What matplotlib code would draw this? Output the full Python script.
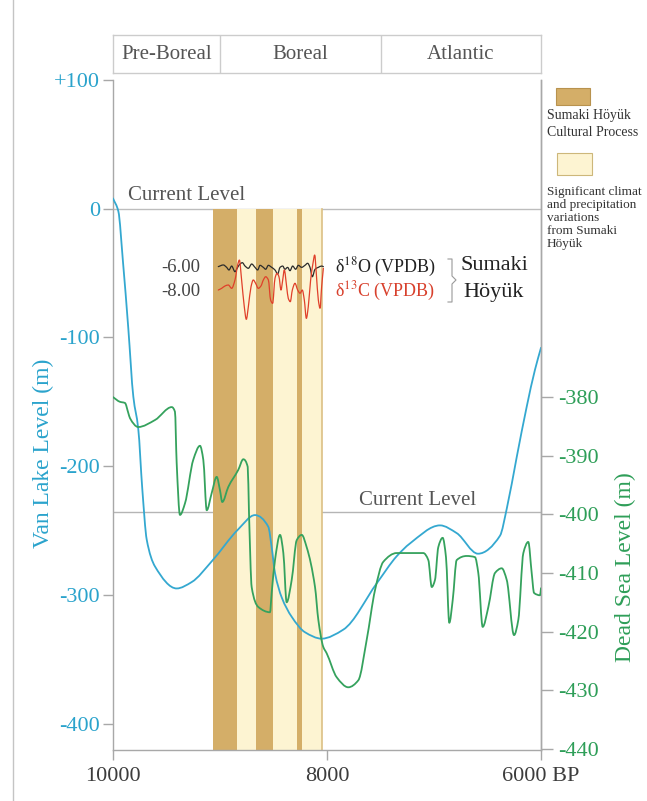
import matplotlib
matplotlib.use("Agg")
import matplotlib.pyplot as plt
from matplotlib.lines import Line2D
from matplotlib.patches import Rectangle, PathPatch
from matplotlib.path import Path
import matplotlib.transforms as mtransforms

plt.rcParams['font.family'] = ['Liberation Serif', 'DejaVu Serif']
plt.rcParams['mathtext.fontset'] = 'stix'

# ---------------- data ----------------
periods = ['Pre-Boreal', 'Boreal', 'Atlantic']
period_bounds = [10000, 9000, 7500, 6000]

band_edges = [9065, 8845, 8660, 8505, 8285, 8235, 8050]
band_kinds = ['cultural', 'climate', 'cultural', 'climate', 'cultural', 'climate']

van_years = [10000, 9950, 9907, 9857, 9810, 9764, 9726, 9685, 9607, 9405, 9264, 9078,
             8829, 8673, 8549, 8517, 8486, 8423, 8330, 8206, 8050, 7848, 7535, 7349,
             7224, 6944, 6788, 6589, 6383, 6320, 6227, 6134, 6056, 6000]
van_level = [8, -2, -41, -93, -146, -171, -218, -257, -278, -295, -290, -274,
             -249, -238, -247, -263, -283, -302, -317, -329, -334, -327, -291, -270,
             -260, -246, -252, -268, -254, -233, -193, -154, -125, -108]

dead_years = [10000, 9935, 9888, 9857, 9841, 9764, 9607, 9451, 9421, 9405, 9374, 9327,
              9250, 9187, 9156, 9124, 9078, 9031, 9000, 8979, 8922, 8829, 8782, 8741,
              8729, 8704, 8642, 8533, 8517, 8486, 8439, 8408, 8377, 8330, 8283, 8236,
              8190, 8112, 8081, 8035, 8003, 7909, 7801, 7707, 7629, 7551, 7474, 7349,
              7100, 7053, 7021, 6991, 6960, 6919, 6888, 6857, 6825, 6788, 6694, 6617,
              6586, 6545, 6492, 6430, 6367, 6320, 6252, 6212, 6165, 6119, 6087, 6065,
              6009, 6000]
dead_level = [-380.0, -380.8, -381.0, -382.7, -383.6, -385.1, -383.9, -381.7, -382.5, -391.2, -400.1, -398.1,
              -390.7, -388.3, -390.7, -399.3, -396.4, -393.6, -395.9, -397.9, -395.3, -392.4, -390.6, -391.9,
              -399.8, -412.4, -415.8, -416.7, -413.4, -407.8, -403.5, -406.6, -415.0, -411.2, -404.4, -403.5,
              -405.6, -412.4, -418.0, -422.6, -423.7, -427.8, -429.5, -428.3, -421.4, -412.9, -408.1, -406.6,
              -406.6, -407.8, -412.4, -411.2, -405.6, -404.0, -407.3, -418.5, -414.6, -407.8, -407.1, -407.3,
              -410.0, -419.2, -415.8, -410.0, -409.2, -411.2, -420.6, -418.0, -406.6, -404.7, -410.0, -413.4,
              -413.8, -412.6]

d18o_years = [9016, 8969, 8938, 8916, 8891, 8860, 8835, 8813, 8791, 8766, 8735, 8704, 8673,
              8648, 8626, 8595, 8573, 8548, 8517, 8486, 8461, 8439, 8414, 8393, 8368, 8346,
              8321, 8293, 8268, 8237, 8206, 8181, 8159, 8137, 8112, 8081, 8050, 8034]
d18o = [-5.97, -5.83, -6.03, -6.25, -5.92, -6.39, -6.03, -5.75, -5.64, -5.92, -6.11, -5.75, -6.03,
        -6.25, -5.86, -6.03, -6.19, -5.86, -6.03, -6.25, -6.58, -6.03, -5.92, -6.19, -6.03, -6.31,
        -5.92, -6.19, -5.86, -6.03, -5.86, -5.69, -6.03, -6.81, -6.19, -6.03, -5.92, -5.97]

d13c_years = [9016, 8985, 8953, 8922, 8891, 8860, 8835, 8819, 8798, 8773, 8754, 8735, 8710,
              8689, 8667, 8642, 8617, 8595, 8573, 8548, 8527, 8508, 8486, 8467, 8449, 8430,
              8414, 8399, 8377, 8362, 8343, 8324, 8299, 8274, 8252, 8231, 8212, 8193, 8175,
              8153, 8131, 8115, 8100, 8081, 8065, 8050, 8034]
d13c = [-7.92, -7.78, -7.58, -7.50, -7.78, -7.08, -5.83, -5.42, -7.08, -9.31, -10.36, -9.31, -7.64,
        -7.08, -7.36, -7.78, -7.58, -7.08, -6.81, -7.08, -8.75, -9.03, -6.94, -6.53, -6.81, -7.92,
        -7.08, -6.25, -7.64, -8.61, -8.89, -7.92, -7.36, -7.92, -8.19, -7.92, -8.75, -10.28, -9.31,
        -7.08, -5.69, -5.00, -6.53, -8.75, -9.44, -7.64, -6.11]

van_current = 0
dead_current = -399.6

van_ticks = [-400, -300, -200, -100, 0, 100]
van_ticklabels = ['-400', '-300', '-200', '-100', '0', '+100']
dead_ticks = [-440, -430, -420, -410, -400, -390, -380]
x_ticks = [10000, 8000, 6000]
x_ticklabels = ['10000', '8000', '6000 BP']

# ---------------- style ----------------
W, H = 647, 801
BLUE = '#34a8d0'
BLUE_TXT = '#2aa3cc'
GREEN = '#35a25d'
GREEN_TXT = '#2e9e58'
TAN = '#d4ae68'
CREAM = '#fdf4d2'
GRAY = '#a8a8a8'


def smooth_path(xs, ys):
    """Monotone cubic (PCHIP-style) curve through the given points, as Bezier path."""
    n = len(xs)
    h = [xs[k + 1] - xs[k] for k in range(n - 1)]
    d = [(ys[k + 1] - ys[k]) / h[k] for k in range(n - 1)]
    m = [0.0] * n
    m[0], m[-1] = d[0], d[-1]
    for k in range(1, n - 1):
        if d[k - 1] * d[k] <= 0:
            m[k] = 0.0
        else:
            h0, h1 = abs(h[k - 1]), abs(h[k])
            w1, w2 = 2 * h1 + h0, h1 + 2 * h0
            m[k] = (w1 + w2) / (w1 / d[k - 1] + w2 / d[k])
    verts = [(xs[0], ys[0])]
    codes = [Path.MOVETO]
    for k in range(n - 1):
        hk = h[k]
        verts += [(xs[k] + hk / 3, ys[k] + m[k] * hk / 3),
                  (xs[k + 1] - hk / 3, ys[k + 1] - m[k + 1] * hk / 3),
                  (xs[k + 1], ys[k + 1])]
        codes += [Path.CURVE4] * 3
    return Path(verts, codes)


def draw_curve(a, xs, ys, color, lw, z):
    a.add_patch(PathPatch(smooth_path(xs, ys), facecolor='none', edgecolor=color,
                          lw=lw, zorder=z, capstyle='round', joinstyle='round'))


fig = plt.figure(figsize=(W / 100, H / 100), dpi=100)
fig.patch.set_facecolor('white')


def fbox(x0, y0, x1, y1):
    return [x0 / W, 1 - y1 / H, (x1 - x0) / W, (y1 - y0) / H]


VAN_LIM = (-420.5, 100)
DEAD_LIM = (-440.2, -325.9)

ax = fig.add_axes(fbox(113, 80, 541, 750))
ax.set_xlim(10000, 6000)
ax.set_ylim(*VAN_LIM)
ax.patch.set_alpha(0)

# bands
for i, kind in enumerate(band_kinds):
    col = TAN if kind == 'cultural' else CREAM
    ax.fill_between([band_edges[i], band_edges[i + 1]], VAN_LIM[0], van_current,
                    color=col, lw=0, zorder=1)
ax.plot([band_edges[-1], band_edges[-1]], [VAN_LIM[0], van_current], color='#dcc084', lw=1.2, zorder=1.1)

# current level lines
ax.axhline(van_current, color='#bdbdbd', lw=1, zorder=0.5)
ax2 = ax.twinx()
ax2.set_ylim(*DEAD_LIM)
blend = mtransforms.blended_transform_factory(ax.transAxes, ax2.transData)
ax.add_line(Line2D([0, 1], [dead_current, dead_current], transform=blend,
                   color='#b5b5b5', lw=1, zorder=0.5))

draw_curve(ax, van_years, van_level, BLUE, 1.3, 3)
draw_curve(ax2, dead_years, dead_level, GREEN, 1.3, 3)

# axes styling
for a in (ax, ax2):
    for s in a.spines.values():
        s.set_color(GRAY)
        s.set_linewidth(1)
    a.spines['top'].set_visible(False)

ax.set_yticks(van_ticks)
ax.set_yticklabels(van_ticklabels)
ax.tick_params(axis='y', colors=GRAY, labelcolor=BLUE_TXT, length=7.2, width=1,
               pad=2, labelsize=16)
ax.set_xticks(x_ticks)
ax.set_xticklabels(x_ticklabels)
ax.tick_params(axis='x', colors=GRAY, labelcolor='#3c3c3c', length=7.2, width=1,
               pad=5, labelsize=16)

ax2.set_yticks(dead_ticks)
ax2.set_yticklabels([str(t) for t in dead_ticks])
ax2.tick_params(axis='y', colors=GRAY, labelcolor=GREEN_TXT, length=8.5, width=1,
                pad=3.5, labelsize=16)
ax2.spines['left'].set_visible(False)
ax2.spines['bottom'].set_visible(False)

# current level labels
fig.text(128 / W, 1 - 205 / H, 'Current Level', fontsize=15, color='#555555', ha='left', va='bottom')
fig.text(359 / W, 1 - 510 / H, 'Current Level', fontsize=15, color='#555555', ha='left', va='bottom')

# axis labels
fig.text(43 / W, 1 - 453 / H, 'Van Lake Level (m)', rotation=90, fontsize=17,
         color=BLUE_TXT, ha='center', va='center')
fig.text(625 / W, 1 - 567 / H, 'Dead Sea Level (m)', rotation=90, fontsize=17,
         color=GREEN_TXT, ha='center', va='center')

# isotope inset
axi = fig.add_axes(fbox(113, 240, 541, 330))
axi.set_xlim(10000, 6000)
axi.set_ylim(-11.25, -3.75)
axi.axis('off')
axi.patch.set_alpha(0)
draw_curve(axi, d18o_years, d18o, '#2b2b2b', 0.9, 3)
draw_curve(axi, d13c_years, d13c, '#e0402a', 0.9, 4)
axi.text(9180, -6, '-6.00', ha='right', va='center', fontsize=13.5, color='#444444')
axi.text(9180, -8, '-8.00', ha='right', va='center', fontsize=13.5, color='#444444')
axi.text(7925, -6, r'δ$^{18}$O (VPDB)', ha='left', va='center', fontsize=13, color='#222222')
axi.text(7925, -8, r'δ$^{13}$C (VPDB)', ha='left', va='center', fontsize=13, color='#d8402c')


def px(x, y):
    return x / W, 1 - y / H


# bracket
bx = [448, 452, 452, 456, 452, 452, 448]
by = [259, 259, 276, 280, 284, 302, 302]
fig.add_artist(Line2D([x / W for x in bx], [1 - y / H for y in by], color='#9a9a9a', lw=0.8))
fig.text(460 / W, 1 - 266 / H, 'Sumaki', fontsize=16, color='#222222', ha='left', va='center')
fig.text(463 / W, 1 - 293 / H, 'Höyük', fontsize=16, color='#222222', ha='left', va='center')

# header
hax = fig.add_axes(fbox(113, 35, 541, 73))
hax.set_xlim(10000, 6000)
hax.set_ylim(0, 1)
hax.set_xticks([])
hax.set_yticks([])
for s in hax.spines.values():
    s.set_color('#cccccc')
    s.set_linewidth(1)
for b in period_bounds[1:-1]:
    hax.axvline(b, color='#cccccc', lw=1)
for i, name in enumerate(periods):
    hax.text((period_bounds[i] + period_bounds[i + 1]) / 2, 0.48, name, ha='center',
             va='center', fontsize=15, color='#555555')

# left border line
fig.add_artist(Line2D([13 / W, 13 / W], [0, 1], color='#c4c4c4', lw=1))

# legend
fig.add_artist(Rectangle(px(556, 105), 34 / W, 17 / H, transform=fig.transFigure,
                         facecolor=TAN, edgecolor='#b8924e', lw=0.8))
fig.add_artist(Rectangle(px(557, 175), 35 / W, 22 / H, transform=fig.transFigure,
                         facecolor=CREAM, edgecolor='#cdb77a', lw=0.8))
leg1 = ['Sumaki Höyük', 'Cultural Process']
leg1_y = [116, 133]
for t, y in zip(leg1, leg1_y):
    fig.text(547 / W, 1 - y / H, t, fontsize=10, color='#333333', ha='left', va='center')
leg2 = ['Significant climat', 'and precipitation', 'variations', 'from Sumaki', 'Höyük']
leg2_y = [192, 205, 218, 231, 244]
for t, y in zip(leg2, leg2_y):
    fig.text(547 / W, 1 - y / H, t, fontsize=9.5, color='#333333', ha='left', va='center')

fig.savefig('out.png', dpi=100)
